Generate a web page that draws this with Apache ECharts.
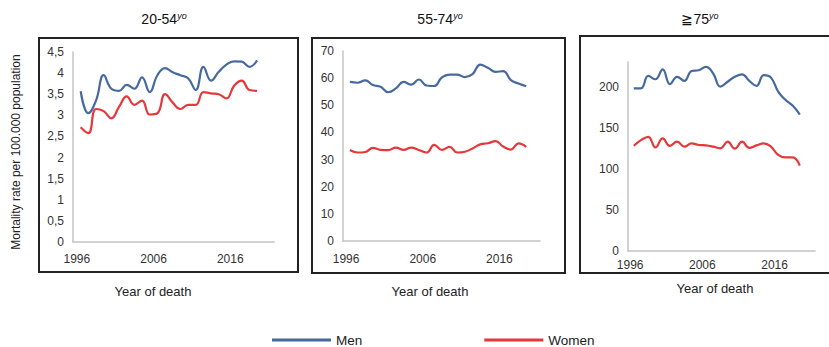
<!DOCTYPE html>
<html><head><meta charset="utf-8">
<script src="https://cdn.jsdelivr.net/npm/echarts@6/dist/echarts.min.js"></script>
<style>html,body{margin:0;padding:0;background:#fff}#c{width:829px;height:347px}</style>
</head><body><div id="c"></div>
<script>
const years = [1997,1998,1999,2000,2001,2002,2003,2004,2005,2006,2007,2008,2009,2010,2011,2012,2013,2014,2015,2016,2017,2018,2019,2020];
const xTickLabels = [1996, 2006, 2016];
const panelTitles = ['20-54', '55-74', '\u226775'];
const seriesNames = ['Men', 'Women'];
const men2054   = [3.57,3.05,3.35,3.95,3.63,3.58,3.72,3.63,3.90,3.55,3.95,4.12,4.02,3.95,3.88,3.60,4.15,3.82,4.03,4.20,4.28,4.27,4.15,4.30];
const women2054 = [2.72,2.58,3.15,3.10,2.93,3.20,3.45,3.25,3.35,3.02,3.05,3.50,3.30,3.15,3.25,3.25,3.55,3.52,3.50,3.40,3.70,3.82,3.60,3.58];
const men5574   = [58.6,58.3,59.2,57.5,56.8,54.8,56.2,58.6,57.6,59.5,57.3,57.1,60.3,61.3,61.3,60.4,61.5,65.0,63.8,62.3,62.6,59.3,58.0,57.0];
const women5574 = [33.5,32.6,32.8,34.3,33.6,33.5,34.4,33.6,34.4,33.5,32.6,35.4,33.6,34.7,32.6,32.9,34.1,35.6,36.0,36.8,34.8,33.7,36.0,34.7];
const men75     = [198,198,213,209,221,203,212,207,219,220,224,216,200,206,212,215,207,201,214,211,194,184,177,166];
const women75   = [128,135,139,126,137,128,133,127,131,129,128.5,127,125,133,124.5,133,125.5,128.5,131,127,117,114,114,104];

const BLUE = '#46699f', RED = '#e5383b';
const FONT = 'Liberation Sans, Arial, sans-serif';
const pair = (ys) => years.map((y, i) => [y, ys[i]]);

const grids = [
  {left: 73, right: 555, top: 52, bottom: 105},
  {left: 343, right: 289, top: 51, bottom: 106},
  {left: 628, right: 14, top: 62, bottom: 96}
];
const xRanges = [[1996.0, 2022.2, 11], [1996.1, 2021.8, 12], [1996.2, 2022.1, 8]];
const yRanges = [[0, 4.5, 0.5], [0, 70, 10], [0, 230, 50]];
const data = [[men2054, women2054], [men5574, women5574], [men75, women75]];

const xAxis = xRanges.map((r, i) => ({
  type: 'value', gridIndex: i, min: r[0], max: r[1],
  axisLine: {show: true, lineStyle: {color: '#c4c4c4', width: 1.5}},
  axisTick: {show: false}, splitLine: {show: false},
  axisLabel: {customValues: xTickLabels.map(v => v + 0.5), formatter: v => String(Math.floor(v)),
    margin: r[2], color: '#333', fontSize: 12, fontFamily: FONT}
}));
const yAxis = yRanges.map((r, i) => ({
  type: 'value', gridIndex: i, min: r[0], max: r[1], interval: r[2],
  axisLine: {show: true, lineStyle: {color: '#c4c4c4', width: 1.5}},
  axisTick: {show: false}, splitLine: {show: false},
  axisLabel: {margin: 9, color: '#333', fontSize: 12, fontFamily: FONT, showMaxLabel: i !== 2,
    formatter: v => i === 0 ? String(v).replace('.', ',') : String(v)}
}));
const series = [];
data.forEach((d, i) => {
  d.forEach((vals, j) => {
    series.push({
      name: seriesNames[j], type: 'line', xAxisIndex: i, yAxisIndex: i,
      data: pair(vals), smooth: 0.45, showSymbol: false,
      lineStyle: {width: 2.2, color: j === 0 ? BLUE : RED},
      itemStyle: {color: j === 0 ? BLUE : RED}
    });
  });
});

const boxes = [[39, 38, 259, 234], [312, 38, 253, 235], [580, 36, 260, 237]];
const titleCenters = [[164, 19], [440, 19], [700, 19]];
const xNameCenters = [[153, 291], [430, 291], [715, 288]];
const graphic = [];
boxes.forEach(b => graphic.push({type: 'rect', shape: {x: b[0], y: b[1], width: b[2], height: b[3]},
  style: {fill: 'none', stroke: '#222', lineWidth: 2}, silent: true}));
titleCenters.forEach((c, i) => graphic.push({type: 'text', x: c[0], y: c[1],
  style: {text: '{a|' + panelTitles[i] + '}{b|yo}', align: 'center', verticalAlign: 'middle',
    rich: {a: {fontSize: 14, fontFamily: FONT, fill: '#111'},
           b: {fontSize: 9, fontStyle: 'italic', fontFamily: FONT, fill: '#111', verticalAlign: 'top', padding: [0,0,6,0]}}}}));
xNameCenters.forEach(c => graphic.push({type: 'text', x: c[0], y: c[1],
  style: {text: 'Year of death', align: 'center', verticalAlign: 'middle', fontSize: 13, fontFamily: FONT, fill: '#222'}}));
graphic.push({type: 'text', x: 16, y: 152, rotation: Math.PI / 2,
  style: {text: 'Mortality rate per 100.000 population', align: 'center', verticalAlign: 'middle', fontSize: 12, fontFamily: FONT, fill: '#222'}});

const chart = echarts.init(document.getElementById('c'), null, {renderer: 'svg'});
chart.setOption({
  animation: false,
  grid: grids,
  xAxis, yAxis, series, graphic,
  legend: {
    data: seriesNames, left: 272, top: 333, padding: 0, itemGap: 122, itemWidth: 59, itemHeight: 3,
    icon: 'rect', textStyle: {fontSize: 13.5, fontFamily: FONT, color: '#222'}
  }
});
</script></body></html>
